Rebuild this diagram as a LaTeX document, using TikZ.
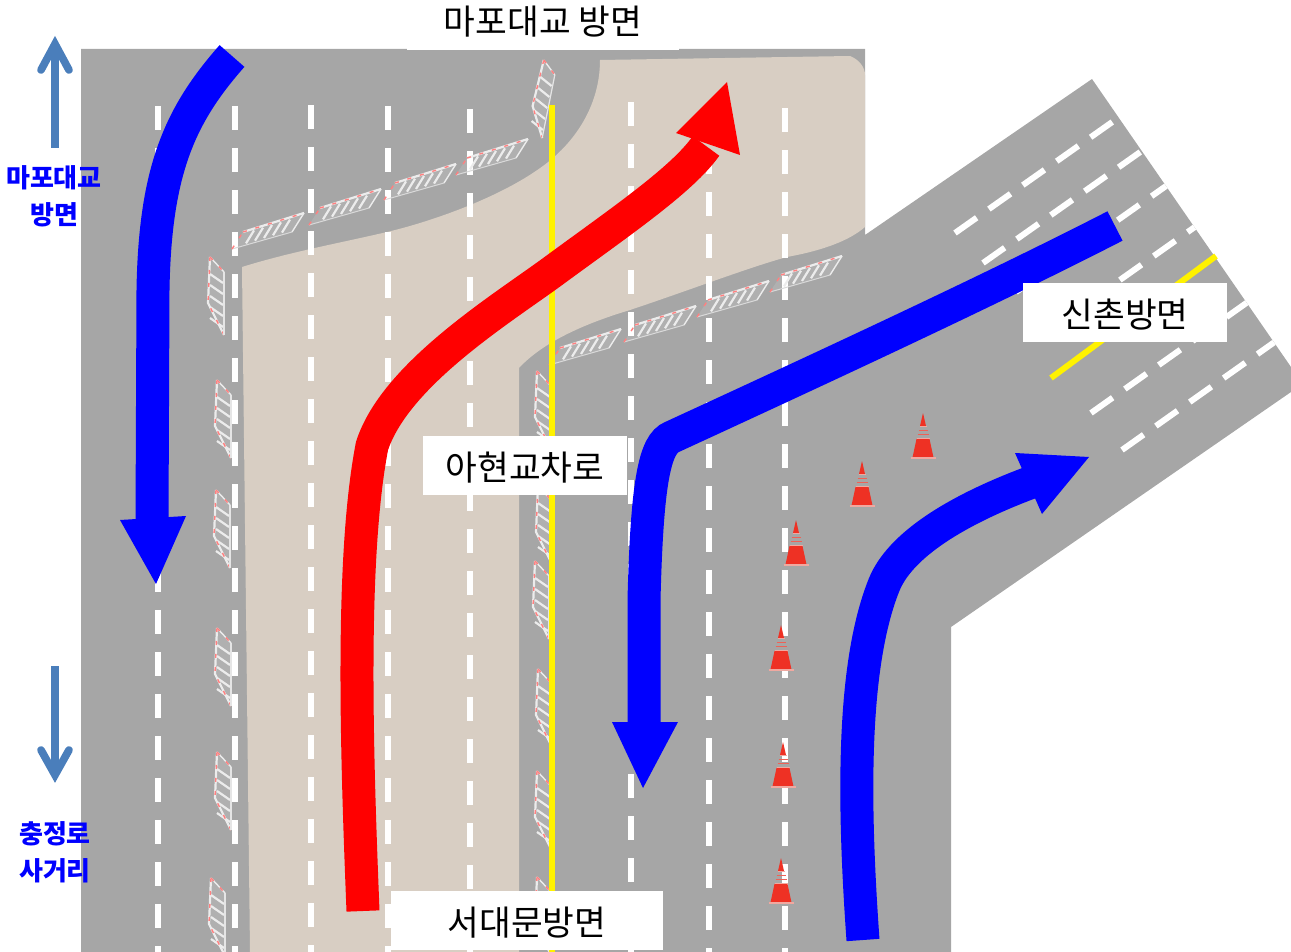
\documentclass[tikz,border=0pt]{standalone}
\usepackage{fontspec}
\newfontfamily\kr{Noto Sans CJK KR}
\definecolor{roadgray}{HTML}{A6A6A6}
\definecolor{beige}{HTML}{D8CEC3}
\definecolor{steel}{HTML}{4A7EBB}
\definecolor{conered}{HTML}{EE3124}
\definecolor{conepink}{HTML}{F0A8A0}
\tikzset{
  lane/.style={draw=white,line width=6pt,dash pattern=on 24pt off 18pt},
  difflane/.style={draw=white,line width=6pt,dash pattern=on 26.5pt off 15pt},
  yline/.style={draw=yellow,line width=6pt},
  shaft/.style={line width=33pt},
  textarrow/.style={draw=steel,line width=7.7pt},
  labelbox/.style={fill=white,inner sep=0pt,font=\kr\fontsize{34.5}{40}\selectfont,text=black},
  bluelabel/.style={inner sep=0pt,text=blue,font=\kr\bfseries\fontsize{26}{30}\selectfont},
  barred/.style={draw=red!50!white,line width=1.4pt,dash pattern=on 4pt off 9pt},
  barwhite/.style={draw=white!85!gray,line width=2.2pt},
  pics/barh/.style={code={
    \fill[white,opacity=.12] (-36,20)--(-25,3)--(36,-16)--(24,3)--cycle;
    \foreach \t in {-18,-9,0,9,18}{\draw[barwhite] (\t-4,9-.3*\t)--(\t+4,-4-.3*\t);}
    \draw[barwhite] (-25,3)--(36,-16);
    \draw[barred] (-25,3)--(36,-16);
    \draw[barwhite,line width=1.4pt] (36,-16)--(24,3);
    \draw[draw=gray!30!white,line width=1pt] (-36,20)--(24,3);
    \draw[barred] (-36,20)--(-25,3);
  }},
  pics/barv/.style={code={
    \fill[white,opacity=.12] (-6,-39)--(8,-24)--(8,39)--(-8,7)--cycle;
    \foreach \t in {-22,-11,0,11,22}{\draw[barwhite] (-6,\t)--(7,\t+9);}
    \draw[barwhite] (-6,-39)--(-8,7)--(8,39);
    \draw[barred] (-6,-39)--(-8,7)--(8,39);
    \draw[barwhite,line width=1.4pt] (-6,-39)--(8,-24);
    \draw[barred] (-6,-39)--(8,-24);
    \draw[draw=gray!20!white,line width=1.2pt] (8,-24)--(8,39);
  }},
  pics/cone/.style={code={
    \fill[conered] (-6.5,26)--(6.5,26)--(10.5,44.5)--(-10.5,44.5)--cycle;
    \fill[conered] (0,0)--(3,13)--(-3,13)--cycle;
    \draw[conepink,line width=1.2pt] (-12.5,45)--(12.5,45);
    \draw[conepink,line width=1pt] (-3.5,13.5)--(3.5,13.5);
    \draw[conered!60!conepink,line width=1.4pt] (-4.5,17.5)--(4.5,17.5);
    \draw[conered!60!conepink,line width=1.4pt] (-5.5,21.5)--(5.5,21.5);
    \draw[conepink,line width=1pt] (-6.5,25.5)--(6.5,25.5);
  }}
}
\newcommand{\lowered}[1]{\raisebox{0pt}[29pt][0pt]{#1}}
\begin{document}
\begin{tikzpicture}[x=1pt,y=-1pt]
\useasboundingbox (0,0) rectangle (1291,952);
% road
\fill[roadgray] (81,49)--(865,49)--(865,235)--(1092,79)--(1291,367)--(1291,392)--(951,627)--(951,952)--(81,952)--cycle;
% median
\fill[beige] (600,60)--(850,56) .. controls (860,60) and (865,68) .. (865,75)--(865,227)
  .. controls (850,240) and (825,250) .. (787,257)
  .. controls (750,267) and (690,290) .. (630,310)
  .. controls (590,322) and (545,340) .. (519,368)
  --(519,952)--(250,952)--(242,267)
  .. controls (290,252) and (340,243) .. (387,232)
  .. controls (430,222) and (510,195) .. (553,158)
  .. controls (585,130) and (600,95) .. (600,60)--cycle;
% lanes
\foreach \x/\y in {158/106,235/106,311/105,388/106,470/109,631/102,709/150,785/108}{
  \draw[lane] (\x,\y)--(\x,952);
}
\begin{scope}
\clip (865,235)--(1092,79)--(1291,367)--(1291,392)--(951,627)--cycle;
\draw[difflane] (955,233)--(1125,113);
\draw[difflane] (983,263)--(1170,131);
\draw[difflane] (1016,292)--(1200,162);
\draw[difflane] (1086,304)--(1240,195);
\draw[difflane] (1091,413)--(1300,265);
\draw[difflane] (1122,450)--(1300,324);
\end{scope}
\draw[yline] (1051,378)--(1216,256);
% barricades
\foreach \x/\y in {268/229,345/205,420/180,492/155,585/345,660/322,733/297,806/272}{
  \pic at (\x,\y) {barh};
}
\foreach \x/\y in {216/296,223/419,222/529,223/667,223/791,217/917,543/410,544/525,541/600,544/708,543/810,543/916}{
  \pic at (\x,\y) {barv};
}
\begin{scope}[shift={(542,99)},xslant=.2]
  \pic[transform shape] at (0,0) {barv};
\end{scope}
\draw[yline] (552,105)--(552,952);
% cones
\foreach \x/\y in {923/413,862/461,796/520,781/625,783/742,781/858}{
  \pic at (\x,\y) {cone};
}
% big arrows
\draw[blue,shaft] (232,56) .. controls (180,115) and (155,170) .. (153,290) -- (152,522);
\fill[blue] (120,520)--(186,516)--(156,584)--cycle;
\draw[red,shaft] (363,911) .. controls (357,760) and (350,560) .. (372,446)
  .. controls (395,375) and (500,310) .. (552,272)
  .. controls (620,222) and (682,180) .. (706,146);
\fill[red] (676,133)--(727,82)--(740,155)--cycle;
\draw[blue,shaft] (1115,226) .. controls (1000,285) and (850,355) .. (672,437)
  .. controls (655,444) and (647,480) .. (644,600) -- (644,724);
\fill[blue] (612,722)--(678,722)--(643,788)--cycle;
\draw[blue,shaft] (863,940) .. controls (853,800) and (852,665) .. (884,585)
  .. controls (902,540) and (970,505) .. (1032,482);
\fill[blue] (1015,453)--(1089,457)--(1042,514)--cycle;
% direction arrows
\draw[textarrow] (55,148)--(55,48);
\draw[textarrow,line cap=round,miter limit=10] (41,70)--(55,44)--(69,70);
\draw[textarrow] (55,666)--(55,775);
\draw[textarrow,line cap=round,miter limit=10] (41,750)--(55,775)--(69,750);
% labels
\node[bluelabel] (mapo1) at (54,178) {마포대교};
\node[bluelabel] (mapo2) at (54,215) {방면};
\node[bluelabel] (chung1) at (55,834) {충정로};
\node[bluelabel] (chung2) at (55,871) {사거리};
\fill[white] (407,0) rectangle (679,50);
\node[labelbox] (top) at (543,22) {마포대교 방면};
\node[labelbox,minimum width=204pt,minimum height=59pt] (ahyeon) at (525,465.5) {\lowered{아현교차로}};
\node[labelbox,minimum width=204pt,minimum height=59pt] (sinchon) at (1125,312.5) {\lowered{신촌방면}};
\node[labelbox,minimum width=272pt,minimum height=59pt] (seodaemun) at (527,920.5) {\lowered{서대문방면}};
\end{tikzpicture}
\end{document}
